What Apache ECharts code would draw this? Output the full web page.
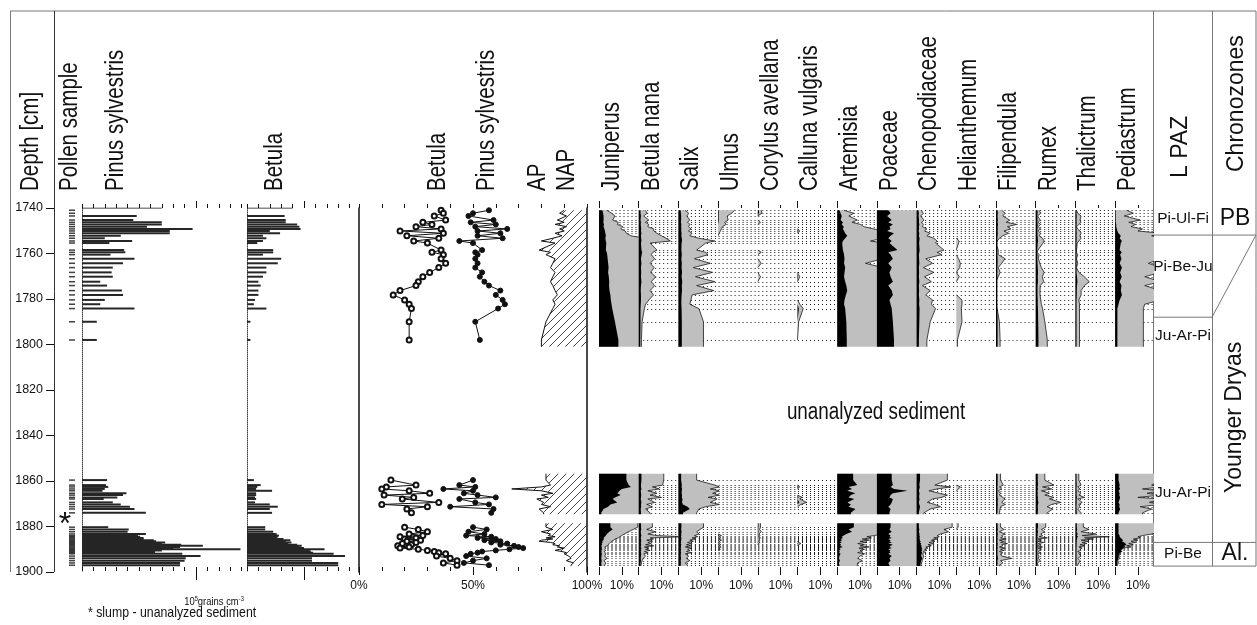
<!DOCTYPE html>
<html>
<head>
<meta charset="utf-8">
<script src="https://cdn.jsdelivr.net/npm/echarts@6/dist/echarts.min.js"></script>
<style>
html, body { margin: 0; padding: 0; background: #fff; }
#chart { width: 1257px; height: 625px; }
</style>
</head>
<body>
<div id="chart"></div>
<script>
// ---------------- Depth scale ----------------
const depthTicks = [1740, 1760, 1780, 1800, 1820, 1840, 1860, 1880, 1900];

// Sample depths (cm) of the three analysed sections
const depthsTop = [1741, 1742.3, 1743.5, 1745.3, 1746.3, 1747.2, 1748.2, 1749.2, 1750.1, 1751.1, 1752.2, 1753.3, 1754.5, 1755.4, 1758.5, 1759.5, 1760.5, 1762.3, 1764.3, 1766.2, 1768.3, 1770.2, 1772.4, 1774.1, 1776.3, 1778.2, 1780.4, 1782.3, 1784.2, 1790, 1798];
const depthsMid = [1859.6, 1861.8, 1862.6, 1863.5, 1864.3, 1865.4, 1866.2, 1867.2, 1867.9, 1869.4, 1870.3, 1871.3, 1872.3, 1874];
const depthsLow = [1880.3, 1881.3, 1882.3, 1883.3, 1884, 1884.5, 1885, 1885.5, 1886, 1886.5, 1887, 1887.5, 1888, 1888.5, 1889, 1889.5, 1890, 1890.5, 1891, 1891.5, 1892, 1893, 1894, 1895, 1896, 1897];
// upper / lower limit of each analysed section
const sectionLimits = [[1741, 1801], [1856.8, 1874.6], [1878.6, 1897.4]];

// ---------------- Concentrations (x10^4 grains cm-3) ----------------
const pinusConc = [
  null, null, 4.8, 4.5, 7.0, 7.0, 5.7, 9.7, 7.7, 7.7, 3.4, 2.0, 4.4, 2.4, 3.7, 3.8, 2.5, 4.6, 3.6, 2.7, 2.6, 2.7, 1.6, 2.2, 3.5, 3.6, 2.0, 1.6, 4.6, 1.3, 1.3,
  2.2, 2.1, 2.3, 2.0, 1.8, 3.9, 3.6, 3.1, 1.9, 2.7, 3.4, 4.2, 4.6, 5.6,
  2.3, 4.1, 4.0, 5.6, 4.9, 5.1, 5.4, 5.4, 6.3, 6.5, 7.3, 7.0, 8.7, 10.6, 8.6, 8.0, 13.9, 7.0, 6.4, 6.4, 8.8, 10.4, 9.1, 9.0, 8.6, 8.6
];
const betulaConc = [
  null, null, 3.3, 3.4, 3.4, 4.4, 4.6, 4.7, 2.0, 2.9, 1.4, 1.7, 1.4, 0.9, 2.3, 2.3, 1.4, 3.0, 2.7, 1.7, 1.7, 1.4, 1.0, 1.2, 1.0, 1.0, 0.7, 0.6, 1.7, 0.3, 0.3,
  0.6, 1.2, 0.9, 0.8, 2.2, 0.8, 0.8, 0.7, 0.8, 0.7, 2.0, 2.7, 2.0, 2.2,
  1.6, 1.6, 2.3, 2.6, 2.8, 2.7, 2.6, 3.2, 3.8, 3.4, 3.9, 3.6, 4.4, 4.8, 4.6, 5.0, 6.8, 5.5, 5.6, 5.8, 7.6, 8.6, 5.7, 5.7, 8.0, 8.0
];
const concTicks = { pinus: [0, 1, 2, 3, 4, 5, 6, 7, 8, 9, 10, 11, 12, 13, 14], betula: [0, 1, 2, 3, 4, 5, 6, 7, 8, 9] };
const concMajor = { pinus: [10], betula: [5] };
const concScaleLine = { pinus: [[0, 1740], [7, 1740]], betula: [[0, 1740], [4, 1740]] };

// ---------------- Percentages (%) ----------------
const betulaPct = [
  36, 37, 33, 38, 28, 32, 25, 36, 18, 37, 21, 35, 24, 30, 36, 32, 37, 36, 38, 35, 31, 28, 26, 25, 18, 15, 20, 22, 23, 22, 22,
  14, 25, 12, 10, 22, 31, 11, 24, 19, 35, 10, 30, 21, 23,
  20, 26, 30, 22, 28, 18, 25, 20, 27, 21, 25, 19, 23, 17, 22, 18, 26, 30, 33, 35, 38, 34, 40, 43, 37, 43
];
const pinusPct = [
  57, 50, 48, 59, 49, 60, 51, 65, 52, 62, 52, 63, 44, 50, 54, 51, 52, 51, 52, 51, 54, 53, 55, 57, 62, 60, 63, 64, 61, 51, 53,
  50, 44, 51, 37, 50, 46, 52, 60, 44, 51, 57, 40, 59, 58,
  50, 56, 48, 55, 47, 58, 52, 60, 55, 62, 58, 65, 62, 68, 70, 72, 66, 60, 54, 52, 49, 47, 56, 50, 46, 57
];
const apPct = [
  90, 88, 91, 87, 90, 86, 91, 88, 90, 86, 89, 85, 80, 86, 79, 84, 82, 86, 85, 84, 86, 85, 84, 85, 86, 87, 85, 86, 85, 82, 80,
  82, 84, 80, 67, 80, 85, 80, 83, 78, 81, 80, 84, 79, 81,
  82, 85, 80, 84, 83, 86, 82, 85, 80, 79, 84, 86, 85, 88, 87, 90, 88, 86, 89, 91, 90, 92, 93, 91, 94, 93
];
const pctTicks = [0, 10, 20, 30, 40, 50, 60, 70, 80, 90, 100];
const pctLabels = [0, 50, 100];
const panelTicks = [0, 10];
const panelLabels = [10];

// Taxon curves: value (black) and exaggerated curve (grey)
const juniperus = [
  1.5, 1.8, 2.0, 2.0, 1.9, 2.2, 2.0, 2.4, 2.6, 2.8, 3.0, 2.8, 3.0, 3.2, 3.0, 3.4, 3.6, 3.8, 4.0, 4.2, 4.0, 4.3, 4.5, 4.4, 4.6, 5.0, 5.2, 5.5, 5.8, 7.0, 8.5,
  12, 13, 14, 10, 9, 8, 9.5, 7, 6, 8, 5, 4, 2, 1,
  5, 6, 4.5, 3.5, 3.0, 2.5, 2.0, 2.2, 1.8, 1.5, 1.6, 1.2, 1.4, 1.0, 1.3, 1.1, 1.4, 1.0, 1.2, 1.0, 1.3, 1.1, 1.0, 1.2, 1.0, 1.1
];
const juniperusExag = [
  3.4, 5.5, 7.0, 6.0, 8.5, 8.0, 10.5, 9.5, 11.5, 12.0, 14, 20, 20, 20, 20, 20, 20, 20, 20, 20, 20, 20, 20, 20, 20, 20, 20, 20, 20, 20, 20,
  20, 20, 20, 20, 20, 20, 20, 20, 20, 20, 20, 20, 20, 20,
  17, 15, 13, 11, 10, 9, 8.5, 7, 6.5, 5.5, 5, 4.5, 4, 3.5, 2.5, 3, 2.5, 3, 2.2, 2.8, 3, 2.5, 3.5, 2.2, 3, 2.5
];
const betulaNana = [
  0.8, 0.8, 1.0, 0.8, 1.0, 0.9, 1.0, 1.1, 1.0, 1.2, 1.0, 1.1, 1.2, 1.0, 1.2, 1.5, 1.3, 1.0, 1.2, 1.0, 1.1, 1.0, 1.2, 1.0, 0.9, 1.0, 1.0, 0.9, 0.8, 0.8, 0.7,
  1.2, 1.0, 1.0, 1.2, 0.9, 1.0, 1.1, 1.0, 0.9, 1.2, 1.0, 1.1, 0.9, 1.0,
  1.0, 1.1, 0.9, 1.0, 1.2, 1.0, 0.9, 1.1, 1.0, 1.2, 0.9, 1.0, 1.1, 1.0, 0.9, 1.2, 1.0, 1.1, 0.9, 1.0, 1.1, 1.0, 0.9, 1.0, 0.8, 0.8
];
const betulaNanaExag = [
  2.9, 3.7, 2.2, 4.4, 2.9, 4.4, 4.0, 6.6, 6.6, 8.0, 10.0, 12.0, 13.9, 5.0, 8.0, 6.2, 5.5, 7.0, 5.0, 6.8, 5.2, 7.5, 5.5, 7.0, 5.0, 6.5, 4.5, 3.0, 2.5, 1.5, 1.2,
  11, 10.5, 6, 9, 4, 8, 5, 10, 4, 7, 3.5, 6, 3, 5,
  6, 3.5, 7.5, 4, 8, 20, 5, 6.5, 3.5, 6, 4, 5.5, 3, 6.6, 2.5, 4.5, 3, 5, 2.5, 4, 2.2, 3, 2, 1.5, 1.2, 1.0
];
const salix = [
  1.0, 1.1, 1.2, 1.2, 1.1, 1.3, 1.2, 1.3, 1.2, 1.4, 1.3, 1.5, 1.6, 1.4, 1.3, 1.4, 1.5, 1.3, 1.5, 1.4, 1.6, 1.4, 1.7, 1.5, 1.6, 1.4, 1.3, 1.3, 1.4, 1.5, 1.5,
  1.2, 1.5, 1.4, 1.6, 1.5, 1.4, 1.6, 1.5, 1.8, 1.6, 2.0, 4.0, 5.0, 2.0,
  1.3, 1.2, 1.4, 1.2, 1.3, 1.1, 1.4, 1.2, 1.3, 1.1, 1.2, 1.0, 1.3, 1.1, 1.2, 1.0, 1.2, 1.1, 1.0, 1.2, 1.1, 1.0, 1.2, 1.0, 1.1, 1.0
];
const salixExag = [
  2.9, 4.5, 3.7, 5.0, 4.0, 5.1, 4.4, 5.5, 4.4, 6.0, 5.0, 9.0, 16.0, 12.0, 8.0, 12.0, 13.0, 7.0, 14.0, 6.5, 15.0, 7.5, 16.0, 8.0, 15.5, 6.0, 5.5, 5.0, 9.0, 11.0, 11.0,
  8, 16, 18, 14, 18, 15, 18, 13, 17, 14, 18, 12, 9, 8,
  11, 9.5, 8, 9, 7, 8.5, 6, 7.5, 5, 6.6, 4, 6, 3.5, 5.5, 3, 6, 4, 5, 3.5, 6, 3, 4.5, 3.5, 5, 3, 4
];
const ulmus = [
  0.3, 0.3, 0.3, 0.3, 0.2, 0, 0, 0, 0, 0, 0, 0, 0, 0, 0, 0, 0, 0, 0, 0, 0, 0, 0, 0, 0, 0, 0, 0, 0, 0, 0,
  0, 0, 0, 0, 0, 0, 0, 0, 0, 0, 0, 0, 0, 0,
  0, 0, 0, 0, 0.4, 0, 0.4, 0, 0.4, 0, 0.3, 0, 0.4, 0, 0.4, 0, 0.3, 0, 0, 0, 0, 0, 0, 0, 0, 0
];
const ulmusExag = [
  7.3, 6.0, 4.0, 4.4, 2.9, 3.5, 2.0, 1.5, 1.0, 0.5, 0, 0, 0, 0, 0, 0, 0, 0, 0, 0, 0, 0, 0, 0, 0, 0, 0, 0, 0, 0, 0,
  0, 0, 0, 0, 0, 0, 0, 0, 0, 0, 0, 0, 0, 0,
  0, 0, 0, 0, 1.5, 0.5, 1.2, 0.3, 1.5, 0.5, 1.0, 0.3, 1.2, 0.4, 1.3, 0.2, 1.0, 0, 0, 0, 0, 0, 0, 0, 0, 0
];
const corylus = [
  0.5, 0.5, 0, 0, 0, 0, 0, 0, 0, 0, 0, 0, 0, 0, 0, 0, 0, 0, 0, 0, 0, 0, 0, 0, 0, 0, 0, 0, 0, 0, 0,
  0, 0, 0, 0, 0, 0, 0, 0, 0, 0, 0, 0, 0, 0,
  0.3, 0.2, 0.3, 0.2, 0.3, 0, 0.3, 0, 0.2, 0, 0.2, 0, 0, 0, 0, 0, 0, 0, 0, 0, 0, 0, 0, 0, 0, 0
];
const corylusExag = [
  1.5, 1.8, 0, 0, 1.2, 0, 0, 0, 0, 0, 0, 0, 0, 0, 0, 1.5, 0, 0, 1.5, 0, 0, 1.2, 0, 0, 0, 0, 0, 0, 0, 0, 0,
  0, 0, 0, 0, 0, 0, 0, 0, 0, 0, 0, 0, 0, 0,
  1.2, 0.8, 1.5, 0.5, 1.0, 0.3, 1.2, 0.5, 0.8, 0.3, 1.0, 0.2, 0, 0, 0, 0, 0, 0, 0, 0, 0, 0, 0, 0, 0, 0
];
const calluna = [
  0, 0, 0, 0, 0, 0, 0, 0, 0.4, 0, 0, 0, 0, 0, 0, 0, 0, 0, 0, 0, 0, 0.3, 0, 0, 0, 0, 0, 0, 0.6, 0, 0,
  0, 0, 0.4, 0, 0, 0, 0, 0.5, 0, 0.8, 0, 0, 0, 0,
  0, 0, 0, 0, 0, 0, 0, 0, 0, 0, 0, 0.3, 0, 0, 0, 0, 0, 0, 0, 0, 0, 0, 0, 0, 0, 0
];
const callunaExag = [
  0, 0, 0, 0, 0, 0, 0, 0, 1.0, 0, 0, 0, 0, 0, 0, 0, 0, 0, 0, 0, 0, 1.0, 0, 0, 0, 0, 0, 1.0, 2.5, 0.5, 0,
  0, 0, 1.0, 0, 0, 0, 0, 2.0, 1.0, 4.0, 1.5, 0, 0, 0,
  0, 0, 0, 0, 0, 0, 0, 0, 0, 0, 0.5, 1.5, 0.5, 0, 0, 0, 0, 0, 0, 0, 0, 0, 0, 0, 0, 0
];
const artemisia = [
  1.0, 1.5, 2.0, 1.5, 2.5, 2.0, 2.9, 2.5, 3.0, 3.5, 4.4, 3.5, 2.5, 2.2, 2.5, 2.8, 3.0, 3.2, 3.0, 3.5, 3.2, 3.0, 3.5, 4.0, 4.4, 3.8, 3.2, 3.0, 3.5, 4.0, 4.2,
  7, 8.8, 5, 6.5, 4.4, 8, 6, 5, 7.5, 4.5, 6, 5, 8, 6,
  7.3, 5, 6.5, 4, 2.9, 2.0, 2.5, 1.5, 2.2, 1.2, 2.0, 1.0, 1.8, 1.2, 2.5, 1.0, 1.5, 0.8, 1.2, 0.8, 1.5, 1.0, 0.8, 1.2, 0.7, 1.0
];
const artemisiaExag = [
  2.9, 7.3, 5.1, 8.8, 6.5, 10.2, 11.7, 16, 20, 20, 20, 20, 14.6, 20, 20, 20, 20, 20, 12.4, 20, 20, 20, 20, 20, 20, 20, 20, 20, 20, 20, 20,
  20, 20, 20, 20, 20, 20, 20, 20, 20, 20, 20, 20, 20, 20,
  20, 20, 20, 20, 16, 13, 15, 11, 14, 10, 13, 9, 12, 10, 14, 9.5, 12, 10, 11, 9, 12, 10, 9, 11, 9, 8.8
];
const poaceae = [
  5.0, 6.0, 4.5, 6.5, 5.0, 7.0, 5.5, 6.0, 4.5, 7.5, 6.0, 5.0, 6.5, 5.5, 9.0, 5.0, 6.0, 7.0, 5.0, 6.5, 5.5, 6.0, 7.0, 5.0, 6.5, 7.0, 5.5, 6.0, 6.5, 7.0, 7.5,
  6.5, 7.0, 6.0, 7.5, 13.5, 7.0, 6.0, 5.5, 7.0, 6.5, 6.0, 5.0, 6.0, 5.5,
  6.0, 5.5, 6.5, 5.0, 6.0, 5.5, 6.5, 5.0, 6.0, 5.5, 6.5, 5.0, 7.0, 6.0, 5.5, 6.5, 5.0, 6.0, 5.5, 6.0, 5.0, 6.5, 5.5, 6.0, 5.0, 5.5
];
const poaceaeExag = [
  20, 20, 20, 20, 20, 20, 20, 20, 20, 20, 20, 20, 20, 20, 20, 20, 20, 20, 20, 20, 20, 20, 20, 20, 20, 20, 20, 20, 20, 20, 20,
  20, 20, 20, 20, 20, 20, 20, 20, 20, 20, 20, 20, 20, 20,
  20, 20, 20, 20, 20, 20, 20, 20, 20, 20, 20, 20, 20, 20, 20, 20, 20, 20, 20, 20, 20, 20, 20, 20, 20, 20
];
const chenopodiaceae = [
  0.8, 1.0, 0.9, 1.1, 1.0, 1.2, 1.0, 1.1, 0.9, 1.2, 1.0, 1.3, 1.2, 1.1, 1.3, 1.2, 1.0, 1.1, 1.2, 1.0, 1.1, 1.0, 1.2, 1.0, 1.1, 1.0, 1.2, 1.1, 1.3, 1.2, 1.0,
  1.5, 1.2, 1.4, 1.2, 1.0, 1.3, 1.2, 1.1, 1.3, 1.0, 1.2, 1.5, 1.3, 1.0,
  1.0, 1.2, 1.0, 1.3, 1.2, 1.5, 1.2, 1.5, 1.3, 1.8, 1.5, 2.0, 1.8, 2.2, 2.0, 2.5, 2.2, 2.5, 2.0, 2.5, 2.2, 2.0, 2.5, 2.0, 1.8, 1.5
];
const chenopodiaceaeExag = [
  2.0, 3.0, 1.8, 3.2, 2.2, 3.0, 2.5, 4.5, 3.5, 6.0, 4.5, 7.6, 9.0, 8.3, 12.0, 9.0, 11.0, 4.0, 7.0, 3.0, 7.6, 3.5, 6.5, 2.5, 6.0, 4.0, 7.0, 6.5, 8.3, 6.0, 4.5,
  13.5, 8, 15, 9, 5.4, 10, 13.5, 11, 7, 4.7, 8, 10.5, 6, 3.2,
  15.6, 12, 14, 10.5, 9, 10, 7.5, 9, 6.5, 8, 5.5, 7.6, 5, 6.5, 4, 5, 3.5, 4.5, 2.8, 3.5, 2.5, 3.2, 2.8, 2.5, 2.2, 1.8
];
const helianthemumExag = [
  0, 0, 0, 0, 0, 0, 0, 0, 0, 0, 0, 0, 1.3, 1.0, 0, 0, 0, 1.0, 1.8, 1.5, 0, 1.3, 0, 0, 0, 0, 2.5, 2.5, 2.2, 2.5, 0.5,
  0, 0, 1.8, 1.0, 0, 0, 0, 0, 0, 0, 0, 0, 0, 0,
  0.8, 0, 0, 0, 0, 0, 0, 0, 0, 0, 0, 0, 0, 0, 0, 0, 0, 0, 0, 0, 0, 0, 0, 0, 0, 0
];
const filipendula = [
  0.7, 0.8, 0.7, 0.8, 0.7, 0.9, 0.7, 0.8, 0.7, 0.8, 0.7, 0.6, 0.6, 0.6, 0.6, 0.6, 0.6, 0.7, 0.7, 0.6, 0.6, 0.6, 0.6, 0.6, 0.6, 0.6, 0.6, 0.6, 0.6, 0.7, 0.7,
  0.7, 0.7, 0.6, 0.7, 0.6, 0.7, 0.6, 0.7, 0.8, 0.7, 0.8, 0.7, 0.7, 0.6,
  0.7, 0.8, 0.6, 0.8, 0.7, 0.7, 0.6, 0.8, 0.6, 0.7, 0.6, 0.8, 0.7, 0.7, 0.6, 0.8, 0.6, 0.7, 0.6, 0.7, 0.6, 0.7, 0.9, 0.6, 0.7, 0.6
];
const filipendulaExag = [
  2.5, 4.0, 3.0, 6.0, 4.5, 9.1, 5.0, 6.5, 3.5, 5.5, 3.0, 1.5, 0.5, 0, 1.0, 1.0, 1.0, 4.0, 2.5, 1.0, 1.8, 1.0, 0, 0, 0, 0, 0, 0, 0.5, 1.5, 1.8,
  2.0, 3.2, 1.5, 2.5, 1.0, 2.0, 1.5, 3.0, 4.0, 2.5, 4.0, 2.0, 1.8, 1.5,
  2.0, 3.5, 1.5, 4.0, 2.5, 3.0, 2.0, 4.5, 1.5, 3.5, 2.0, 5.0, 2.5, 3.0, 1.5, 4.0, 2.0, 3.5, 1.5, 3.0, 2.0, 2.5, 6.9, 2.0, 3.0, 1.5
];
const rumex = [
  0.8, 0.8, 0.7, 0.8, 0.7, 0.9, 0.8, 0.8, 0.7, 0.8, 0.8, 0.9, 1.0, 0.9, 0.7, 0.6, 0.8, 0.7, 0.8, 0.9, 1.0, 0.9, 1.0, 0.8, 0.8, 0.8, 0.9, 0.9, 1.0, 1.1, 1.2,
  0.9, 1.0, 0.8, 1.0, 0.8, 0.9, 0.8, 1.0, 0.9, 1.2, 1.0, 0.9, 1.0, 0.9,
  1.0, 0.8, 1.0, 0.8, 0.9, 0.7, 1.0, 0.7, 0.8, 0.6, 0.9, 0.7, 0.8, 0.6, 0.9, 0.7, 0.8, 0.7, 0.6, 0.8, 0.6, 0.7, 0.7, 0.8, 0.6, 0.7
];
const rumexExag = [
  1.5, 2.2, 0.8, 2.0, 1.0, 2.2, 1.2, 2.0, 1.0, 2.2, 1.5, 3.0, 3.7, 3.2, 1.0, 0.7, 1.5, 1.2, 1.8, 2.5, 3.7, 2.9, 3.5, 2.0, 1.9, 1.9, 2.2, 2.5, 3.0, 4.0, 5.1,
  4.0, 8.0, 3.0, 7.0, 2.5, 6.0, 4.0, 8.0, 6.0, 11.0, 7.0, 5.0, 7.5, 5.0,
  4.4, 2.5, 4.0, 2.2, 3.0, 1.5, 5.1, 1.0, 2.5, 0.8, 3.5, 1.2, 2.0, 0.7, 3.0, 1.0, 2.5, 1.5, 1.0, 2.2, 0.8, 1.5, 1.2, 2.0, 0.8, 1.0
];
const thalictrum = [
  0.5, 0.5, 0.6, 0.5, 0.6, 0.5, 0.5, 0.5, 0.5, 0.6, 0.5, 0.6, 0.5, 0.5, 0.5, 0.5, 0.5, 0.5, 0.5, 0.5, 0.5, 0.7, 0.9, 0.7, 0.6, 0.6, 0.5, 0.5, 0.5, 0.5, 0.5,
  0.5, 0.6, 0.5, 0.5, 0.5, 0.6, 0.5, 0.7, 0.5, 0.6, 0.5, 0.5, 0.5, 0.6,
  0.6, 0.8, 0.5, 1.0, 0.6, 1.2, 0.6, 0.8, 0.5, 0.7, 0.5, 0.6, 0.5, 0.6, 0.5, 0.5, 0.5, 0.5, 0.5, 0.5, 0.5, 0.5, 0.5, 0.5, 0.5, 0.5
];
const thalictrumExag = [
  0.5, 1.0, 2.5, 2.0, 2.5, 1.5, 0.5, 1.0, 2.0, 2.5, 2.0, 2.5, 1.5, 0.8, 0.5, 0.5, 1.0, 0.5, 1.0, 0.5, 1.5, 3.9, 6.1, 4.0, 2.5, 2.5, 1.5, 1.8, 1.8, 1.8, 1.8,
  1.5, 2.5, 1.0, 2.0, 1.0, 2.5, 1.5, 3.9, 1.0, 3.0, 1.5, 2.0, 1.0, 2.5,
  3.5, 6.0, 2.5, 9.0, 3.0, 14.9, 4.0, 8.0, 2.5, 6.0, 3.0, 5.0, 2.0, 4.0, 1.5, 3.0, 2.0, 2.5, 1.0, 2.0, 1.5, 2.5, 1.0, 2.0, 1.5, 1.0
];
const pediastrum = [
  0.3, 0.3, 0.3, 0.3, 0.3, 0.5, 0.5, 0.8, 1.0, 1.5, 2.5, 2.0, 3.0, 2.5, 2.0, 2.9, 2.2, 2.8, 2.0, 3.0, 2.2, 2.9, 2.0, 2.8, 2.5, 3.0, 2.0, 1.5, 1.0, 1.0, 1.0,
  1.5, 2.0, 1.8, 2.2, 1.5, 2.0, 1.8, 2.2, 2.0, 1.5, 2.0, 1.8, 2.2, 1.5,
  1.5, 1.5, 1.5, 1.5, 2.0, 2.0, 2.5, 3.0, 3.5, 3.0, 4.0, 4.5, 5.0, 4.0, 4.5, 3.5, 3.0, 2.5, 3.0, 2.0, 2.0, 1.5, 1.5, 1.0, 1.0, 0.8
];
const pediastrumExag = [
  5, 8, 4, 11, 6, 9, 7, 12, 10, 20, 16, 20, 20, 20, 20, 20, 20, 20, 14.6, 20, 20, 13, 20, 13, 20, 20, 20, 13, 12.4, 12.4, 12.4,
  20, 16, 20, 12, 20, 14, 20, 10, 20, 15, 20, 11, 16, 12,
  20, 20, 20, 16, 12, 10, 11, 8, 10, 7, 9, 6, 8, 5, 7, 3.7, 3.0, 2.5, 3.0, 2.0, 2.5, 1.5, 2.0, 1.2, 1.5, 1.0
];

// Local pollen assemblage zones and chronozones
const lpazBounds = [1751.9, 1788, 1887];
const lpazLabels = [['Pi-Ul-Fi', 1744.8], ['Pi-Be-Ju', 1766], ['Ju-Ar-Pi', 1796], ['Ju-Ar-Pi', 1865], ['Pi-Be', 1891.8]];
const chronoLabels = [['PB', 1744.8], ['Younger Dryas', 1832], ['Al.', 1891.8]];
const slumpDepth = 1876;
const gapDepth = 1830;

// ---------------- Fonts ----------------
const HAS_NARROW = (() => {
  const ctx = document.createElement('canvas').getContext('2d');
  ctx.font = "20px 'Liberation Sans Narrow', monospace";
  const a = ctx.measureText('Pinus sylvestris').width;
  ctx.font = '20px monospace';
  const b = ctx.measureText('Pinus sylvestris').width;
  return Math.abs(a - b) > 0.5;
})();
const NARROW = HAS_NARROW ? "'Liberation Sans Narrow'" : "'Liberation Sans', Arial, sans-serif";
const SQUEEZE = HAS_NARROW ? 1 : 0.82;
const REGULAR = "'Liberation Sans', Arial, sans-serif";
const INK = '#111';

// ---------------- Layout ----------------
const TOP = 208, HEIGHT = 364;           // 1740 cm .. 1900 cm
const PCT = 2.28;                        // px per percent
const CONC = 11.4;                       // px per 10^4 grains
const panelStart = 599, panelStep = 39.7, zoneLeft = 1153;

const grid = [], xAxis = [], yAxis = [], series = [];
function addGrid(left, width) {
  grid.push({ left, width, top: TOP, height: HEIGHT, containLabel: false, outerBoundsMode: 'none' });
  return grid.length - 1;
}
function addY(gi, extra) {
  yAxis.push(Object.assign({
    gridIndex: gi, type: 'value', min: 1740, max: 1900, inverse: true,
    axisLine: { show: false, onZero: false }, axisTick: { show: false }, axisLabel: { show: false }, splitLine: { show: false }
  }, extra || {}));
  return yAxis.length - 1;
}
function addX(gi, max, o) {
  o = o || {};
  xAxis.push({
    gridIndex: gi, type: 'value', min: 0, max, position: o.pos || 'bottom', offset: o.offset || 0,
    axisLine: { show: false, onZero: false }, splitLine: { show: false },
    axisTick: o.ticks ? { show: true, customValues: o.ticks, length: o.len || 4, lineStyle: { color: INK, width: 1 } } : { show: false },
    axisLabel: o.labels ? {
      show: true, customValues: o.labels, formatter: '{value}%', margin: 13, showMinLabel: true, showMaxLabel: true,
      fontSize: HAS_NARROW ? 14 : 12, fontFamily: NARROW, color: INK
    } : { show: false }
  });
  return xAxis.length - 1;
}

// depth column
const gDepth = addGrid(54, 1);
addX(gDepth, 1);
const yDepth = addY(gDepth, {
  axisTick: { show: true, customValues: depthTicks, length: 8, lineStyle: { color: INK } },
  axisLabel: { show: true, customValues: depthTicks, formatter: v => String(v), margin: 11, fontSize: 12.5, fontFamily: REGULAR, color: INK }
});

// pollen sample column
const gSample = addGrid(62, 20);
const xSample = addX(gSample, 1);
const ySample = addY(gSample);
series.push({
  type: 'scatter', xAxisIndex: xSample, yAxisIndex: ySample, silent: true,
  data: depthsTop.concat(depthsMid, depthsLow).map(d => [0.5, d]),
  symbol: 'rect', symbolSize: [6, 1.5], itemStyle: { color: INK }
});

const depths = depthsTop.concat(depthsMid, depthsLow);
const sections = [];
{
  let start = 0;
  [depthsTop, depthsMid, depthsLow].forEach((arr, k) => {
    sections.push({ from: start, to: start + arr.length, top: sectionLimits[k][0], bottom: sectionLimits[k][1] });
    start += arr.length;
  });
}

// concentration panels
function concPanel(left, vals, ticks, major, scaleLine) {
  const max = ticks[ticks.length - 1];
  const gi = addGrid(left, max * CONC);
  const xi = addX(gi, max, { ticks, len: 4, offset: -5 });
  addX(gi, max, { ticks: major, len: 13, offset: -5 });
  addX(gi, max, { pos: 'top', ticks, len: 4 });
  addX(gi, max, { pos: 'top', ticks: major, len: 7 });
  const yi = addY(gi, { axisLine: { show: true, onZero: false, lineStyle: { color: '#444', type: 'dotted', width: 1 } } });
  series.push({
    type: 'custom', xAxisIndex: xi, yAxisIndex: yi, silent: true,
    data: depths.map((d, i) => [vals[i], d]).filter(p => p[0] != null),
    encode: { x: 0, y: 1 },
    renderItem: (params, api) => {
      const a = api.coord([0, api.value(1)]), b = api.coord([api.value(0), api.value(1)]);
      return { type: 'rect', shape: { x: a[0], y: a[1] - 1, width: b[0] - a[0], height: 2 }, style: { fill: '#262626' } };
    }
  });
  series.push({
    type: 'line', xAxisIndex: xi, yAxisIndex: yi, silent: true, data: scaleLine,
    symbol: 'none', lineStyle: { color: INK, width: 1 }
  });
}
concPanel(82, pinusConc, concTicks.pinus, concMajor.pinus, concScaleLine.pinus);
concPanel(247, betulaConc, concTicks.betula, concMajor.betula, concScaleLine.betula);

// percentage curves: Betula, Pinus, AP / NAP
const gCurve = addGrid(359, 100 * PCT);
const xCurve = addX(gCurve, 100, { ticks: pctTicks, len: 4, offset: -5 });
addX(gCurve, 100, { ticks: pctLabels, len: 8, labels: pctLabels, offset: -5 });
addX(gCurve, 100, { pos: 'top', ticks: pctTicks, len: 4 });
const yCurve = addY(gCurve, { axisLine: { show: true, onZero: false, lineStyle: { color: INK, width: 1.5 } } });
addY(gCurve, { position: 'right', axisLine: { show: true, onZero: false, lineStyle: { color: INK, width: 1.5 } } });

function makeHatch() {
  const c = document.createElement('canvas');
  c.width = 8; c.height = 8;
  const g = c.getContext('2d');
  g.strokeStyle = '#333'; g.lineWidth = 0.9;
  g.beginPath();
  g.moveTo(0, 8); g.lineTo(8, 0);
  g.moveTo(-2, 2); g.lineTo(2, -2);
  g.moveTo(6, 10); g.lineTo(10, 6);
  g.stroke();
  return c;
}
const hatch = makeHatch();
series.push({
  type: 'custom', xAxisIndex: xCurve, yAxisIndex: yCurve, silent: true,
  data: sections.map((s, k) => [100, s.top, k]),
  renderItem: (params, api) => {
    const s = sections[params.dataIndex];
    const line = [api.coord([apPct[s.from], s.top])];
    for (let i = s.from; i < s.to; i++) line.push(api.coord([apPct[i], depths[i]]));
    line.push(api.coord([apPct[s.to - 1], s.bottom]));
    const area = [api.coord([100, s.top])].concat(line, [api.coord([100, s.bottom])]);
    return {
      type: 'group', children: [
        { type: 'polygon', shape: { points: area }, style: { fill: { image: hatch, repeat: 'repeat' } } },
        { type: 'polyline', shape: { points: line }, style: { stroke: INK, lineWidth: 1, fill: null } }
      ]
    };
  }
});
function curveSeries(vals, filled) {
  sections.forEach(s => {
    const data = [];
    for (let i = s.from; i < s.to; i++) data.push([vals[i], depths[i]]);
    series.push({
      type: 'line', xAxisIndex: xCurve, yAxisIndex: yCurve, silent: true, data, z: 4,
      symbol: filled ? 'circle' : 'emptyCircle', symbolSize: 5, showSymbol: true,
      lineStyle: { color: INK, width: 1 }, itemStyle: { color: INK, borderColor: INK, borderWidth: 1 }
    });
  });
}
curveSeries(betulaPct, false);
curveSeries(pinusPct, true);

// taxon silhouette panels
const taxa = [
  ['Juniperus', juniperus, juniperusExag],
  ['Betula nana', betulaNana, betulaNanaExag],
  ['Salix', salix, salixExag],
  ['Ulmus', ulmus, ulmusExag],
  ['Corylus avellana', corylus, corylusExag],
  ['Calluna vulgaris', calluna, callunaExag],
  ['Artemisia', artemisia, artemisiaExag],
  ['Poaceae', poaceae, poaceaeExag],
  ['Chenopodiaceae', chenopodiaceae, chenopodiaceaeExag],
  ['Helianthemum', null, helianthemumExag],
  ['Filipendula', filipendula, filipendulaExag],
  ['Rumex', rumex, rumexExag],
  ['Thalictrum', thalictrum, thalictrumExag],
  ['Pediastrum', pediastrum, pediastrumExag]
];
const panelLefts = [];
taxa.forEach(([name, pct, exag], t) => {
  const left = panelStart + t * panelStep;
  const right = t === taxa.length - 1 ? zoneLeft : left + panelStep;
  panelLefts.push(left);
  const max = (right - left) / PCT;
  const gi = addGrid(left, right - left);
  const xi = addX(gi, max, { ticks: panelTicks, len: 8, labels: panelLabels, offset: -5 });
  addX(gi, max, { pos: 'top', ticks: [panelTicks[0]], len: 7 });
  addX(gi, max, { pos: 'top', ticks: [panelTicks[1]], len: 3 });
  const yi = addY(gi);
  series.push({
    type: 'custom', xAxisIndex: xi, yAxisIndex: yi, clip: true, silent: true,
    data: sections.map((s, k) => [0, s.top, k]),
    renderItem: (params, api) => {
      const s = sections[params.dataIndex];
      const kids = [];
      // dotted sample lines
      for (let i = s.from; i < s.to; i++) {
        const a = api.coord([0, depths[i]]), b = api.coord([max, depths[i]]);
        const y = Math.round(a[1]) + 0.5;
        kids.push({ type: 'line', shape: { x1: a[0] + 0.5, y1: y, x2: b[0], y2: y }, style: { stroke: '#1a1a1a', lineWidth: 1, lineDash: [1, 3] } });
      }
      // curve vertices: [value, depth] from section top to section bottom
      const vertices = vals => {
        const v = [[vals[s.from], s.top]];
        for (let i = s.from; i < s.to; i++) v.push([vals[i], depths[i]]);
        v.push([vals[s.to - 1], s.bottom]);
        return v;
      };
      const area = vals => [api.coord([0, s.top])].concat(vertices(vals).map(p => api.coord(p)), [api.coord([0, s.bottom])]);
      if (exag) {
        kids.push({ type: 'polygon', shape: { points: area(exag) }, style: { fill: '#bfbfbf' } });
        // outline only where the curve leaves the baseline
        const v = vertices(exag);
        let run = [];
        const flush = () => { if (run.length > 1) kids.push({ type: 'polyline', shape: { points: run }, style: { stroke: '#1a1a1a', lineWidth: 0.8, fill: null } }); run = []; };
        for (let j = 0; j < v.length - 1; j++) {
          if (v[j][0] > 0 || v[j + 1][0] > 0) {
            if (!run.length) run.push(api.coord(v[j]));
            run.push(api.coord(v[j + 1]));
          } else flush();
        }
        flush();
      }
      if (pct) kids.push({ type: 'polygon', shape: { points: area(pct) }, style: { fill: '#000' } });
      return { type: 'group', children: kids };
    }
  });
});

const chart = echarts.init(document.getElementById('chart'), null, { renderer: 'canvas', width: 1257, height: 625 });
chart.setOption({ backgroundColor: '#fff', animation: false, grid, xAxis, yAxis, series });

// ---------------- Frame, headings and zone columns ----------------
const Y = d => chart.convertToPixel({ yAxisIndex: yDepth }, d);
const yTop = 11, yEnd = Y(1900), yZoneEnd = Y(sectionLimits[2][1]);
const chronoLeft = 1212, rightEdge = 1256;

function seg(x1, y1, x2, y2, color) {
  return { type: 'line', silent: true, shape: { x1, y1, x2, y2 }, style: { stroke: color || '#555', lineWidth: 1 } };
}
function text(str, x, y, size, o) {
  o = o || {};
  const narrow = o.narrow !== false;
  return {
    type: 'text', silent: true, x, y, rotation: o.rotate ? Math.PI / 2 : 0,
    scaleX: narrow ? SQUEEZE : 1,
    style: {
      text: str, fontSize: size, fontFamily: narrow ? NARROW : REGULAR, fill: INK,
      align: o.align || 'left', verticalAlign: o.valign || 'middle', rich: o.rich
    }
  };
}

const headBottom = 191, headSize = 25;
const headings = [
  ['Depth [cm]', 31], ['Pollen sample', 70], ['Pinus sylvestris', 116], ['Betula', 275],
  ['Betula', 438], ['Pinus sylvestris', 487], ['AP', 538], ['NAP', 567]
];
const graphic = [
  seg(10, yTop, rightEdge, yTop, '#777'),
  seg(10.5, yTop, 10.5, yEnd, '#777'),
  seg(54.5, yTop, 54.5, yEnd, '#333'),
  seg(zoneLeft + 0.5, yTop, zoneLeft + 0.5, yZoneEnd, '#777'),
  seg(chronoLeft + 0.5, yTop, chronoLeft + 0.5, yZoneEnd, '#777'),
  seg(rightEdge, yTop, rightEdge, yZoneEnd, '#777'),
  seg(zoneLeft, Y(lpazBounds[0]), rightEdge, Y(lpazBounds[0]), '#777'),
  seg(zoneLeft, Y(lpazBounds[1]), chronoLeft, Y(lpazBounds[1]), '#777'),
  seg(chronoLeft, Y(lpazBounds[1]), rightEdge, Y(lpazBounds[0]), '#777'),
  seg(zoneLeft, Y(lpazBounds[2]), rightEdge, Y(lpazBounds[2]), '#777'),
  seg(zoneLeft, yZoneEnd, rightEdge, yZoneEnd, '#777')
];
headings.forEach(([s, x]) => graphic.push(text(s, x, headBottom, headSize, { rotate: true })));
taxa.forEach(([name], t) => graphic.push(text(name, panelLefts[t] + 13, headBottom, headSize, { rotate: true })));
graphic.push(text('L PAZ', 1181, 178, 23, { rotate: true, narrow: false }));
graphic.push(text('Chronozones', 1237, 172, 23, { rotate: true, narrow: false }));
lpazLabels.forEach(([s, d]) => graphic.push(text(s, 1183, Y(d), 15.5, { align: 'center', narrow: false })));
chronoLabels.forEach(([s, d]) => graphic.push(text(s, 1235, Y(d), 23, { align: 'center', narrow: false, rotate: s.length > 4 })));
graphic.push(text('unanalyzed sediment', (panelStart + zoneLeft) / 2, Y(gapDepth), 23, { align: 'center' }));
graphic.push(text('*', 65, Y(slumpDepth) + 8, 32, { align: 'center', narrow: false }));
graphic.push(text('* slump - unanalyzed sediment', 88, 613, 15));
graphic.push(text('10{sup|5}grains cm{sup|-3}', 214, 602, 11.5, {
  align: 'center', rich: { sup: { fontSize: 7, fontFamily: NARROW, verticalAlign: 'top', padding: [0, 0, 4, 0] } }
}));
chart.setOption({ graphic });
</script>
</body>
</html>
